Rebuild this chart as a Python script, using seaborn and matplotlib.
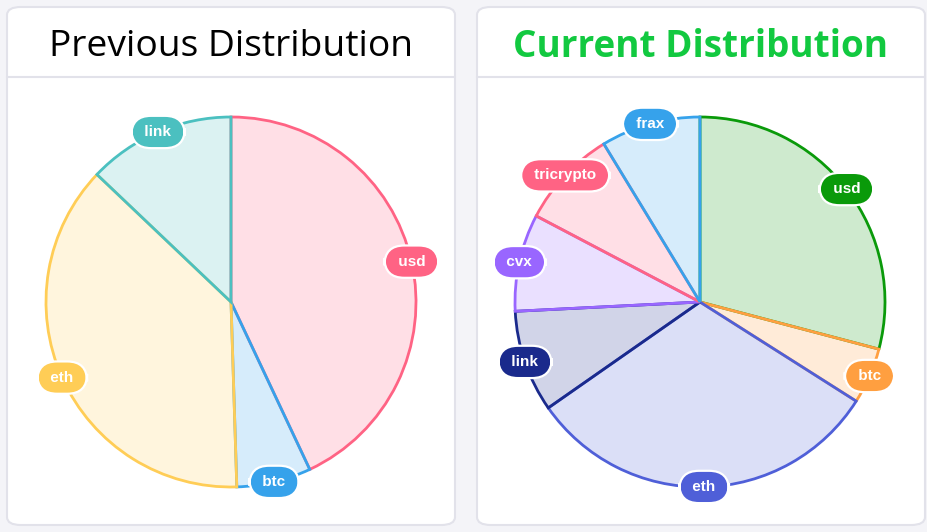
import numpy as np
import matplotlib.pyplot as plt
import seaborn as sns
from matplotlib.patches import FancyBboxPatch
from matplotlib.colors import to_rgba

prev_labels = ['usd', 'btc', 'eth', 'link']
prev_values = [43.0, 6.5, 37.6, 12.9]
prev_colors = ['#ff6384', '#36a2eb', '#ffcd56', '#4bc0c0']

cur_labels = ['usd', 'btc', 'eth', 'link', 'cvx', 'tricrypto', 'frax']
cur_values = [29.1, 4.9, 31.3, 8.9, 8.5, 8.6, 8.7]
cur_colors = ['#0a9a0a', '#ff9f40', '#4f5fd8', '#1a2a8c', '#9966ff', '#ff6384', '#36a2eb']

sns.set_theme(style='white')
plt.rcParams['font.family'] = ['Open Sans', 'DejaVu Sans']

W, H = 928, 532
fig = plt.figure(figsize=(W / 100, H / 100), dpi=100)
fig.patch.set_facecolor('#f4f4f8')


def card(x0, x1, title, color, weight, size):
    box = FancyBboxPatch((x0 / W, 7 / H), (x1 - x0) / W, (525 - 7) / H,
                         boxstyle='round,pad=0,rounding_size=0.015',
                         transform=fig.transFigure, facecolor='white',
                         edgecolor='#e2e2ea', linewidth=1.5, zorder=-2)
    fig.patches.append(box)
    fig.add_artist(plt.Line2D([x0 / W, x1 / W], [1 - 77 / H, 1 - 77 / H],
                              transform=fig.transFigure, color='#e2e2ea', lw=1.5,
                              zorder=-1))
    fig.text((x0 + x1) / 2 / W, 1 - 47 / H, title, ha='center', va='center',
             fontsize=size, color=color, fontweight=weight)


def draw_pie(cx, cy, labels, values, colors):
    r = 185
    ax = fig.add_axes([(cx - r) / W, (H - cy - r) / H, 2 * r / W, 2 * r / H])
    fills = [to_rgba(c, 0.2) for c in colors]
    wedges, _ = ax.pie(values, colors=fills, startangle=90, counterclock=False,
                       radius=1, wedgeprops=dict(linewidth=2))
    for w, c in zip(wedges, colors):
        w.set_edgecolor(c)
        w.set_clip_on(False)
    ax.set_xlim(-1, 1)
    ax.set_ylim(-1, 1)
    ax.set_aspect('equal')
    ax.axis('off')
    total = sum(values)
    start = 0
    for lab, v, c in zip(labels, values, colors):
        mid = np.deg2rad((start + v / 2) / total * 360)
        start += v
        # spaces widen the pill a little, like the padding in the original
        ax.text(np.sin(mid), np.cos(mid), ' ' + lab + ' ', ha='center', va='center',
                color='white', fontsize=11, fontweight='bold',
                family=['Liberation Sans', 'DejaVu Sans'], zorder=5,
                bbox=dict(boxstyle='round,pad=0.6,rounding_size=1.3',
                          facecolor=c, edgecolor='white', linewidth=1.6))


card(7, 455, 'Previous Distribution', 'black', 'normal', 26.8)
card(477, 925, 'Current Distribution', '#12c940', 'bold', 26.6)
draw_pie(231, 302, prev_labels, prev_values, prev_colors)
draw_pie(700, 302, cur_labels, cur_values, cur_colors)

fig.savefig('out.png', dpi=100, facecolor=fig.get_facecolor())
